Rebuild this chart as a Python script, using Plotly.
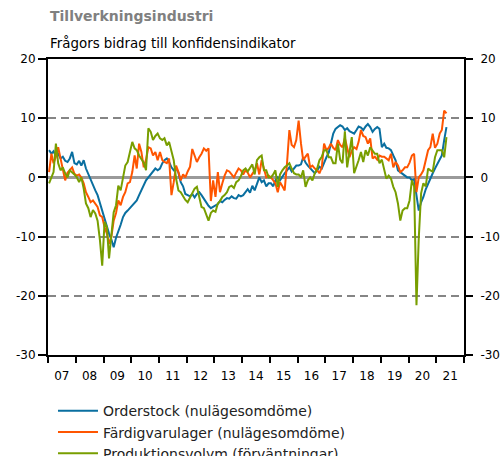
import plotly.graph_objects as go

# Monthly values, Jan 2007 - May 2021
orderstock = [
    4.6, 4.0, 4.4, 3.6, 4.0, 3.2, 3.5, 2.8, 2.6, 3.2, 4.3, 2.4,
    2.2, 2.8, 2.0, 2.9, 1.5, 0.5, -0.2, -1.2, -2.2, -3.0, -4.4, -5.5,
    -7.3, -8.5, -9.5, -10.5, -11.8, -10.2, -9.2, -8.0, -6.7, -6.0, -5.6, -5.2,
    -4.7, -4.2, -3.9, -3.0, -2.2, -1.5, -0.5, 0.0, 0.5, 1.0, 1.5, 1.2,
    1.5, 2.4, 2.9, 3.2, 2.6, 1.7, 1.2, 1.6, 0.8, -0.8, -1.5, -2.8,
    -3.0, -3.2, -2.8, -3.4, -2.8, -2.5, -3.0, -3.6, -4.4, -4.8, -5.2, -5.0,
    -4.8, -4.5, -4.0, -4.2, -3.8, -3.5, -3.6, -3.2, -3.5, -3.6, -3.0, -3.2,
    -3.0, -2.5, -2.0, -2.6, -1.4, -2.2, -1.0, 0.0, -0.8, -0.5, -1.5, -1.0,
    -1.0, -1.5, -0.5, 0.0, -0.5, 0.2, 0.7, 1.2, 1.7, 1.0, 1.5, 2.0,
    2.0, 2.2, 3.4, 2.5, 2.0, 1.5, 1.0, 0.7, 1.2, 1.8, 1.5, 2.5,
    3.4, 4.2, 5.7, 7.4, 8.2, 8.5, 8.8, 8.6, 8.0, 8.3, 7.8, 7.6,
    7.4, 8.0, 8.6, 8.4, 8.0, 8.6, 9.0, 8.5, 7.7, 8.2, 8.5, 8.2,
    5.1, 5.7, 5.0, 4.9, 4.6, 3.7, 2.9, 1.2, 0.9, 0.7, 0.3, 0.0,
    0.0, -0.5, -0.3, -3.0, -5.6, -4.2, -3.3, -2.0, -1.0, 0.0, 0.7, 1.5,
    2.3, 3.0, 3.7, 6.3, 8.5,
]

fardigvarulager = [
    0.9, 4.0, 2.4, 3.5, 5.1, 3.2, 0.9, -0.5, 0.8, 1.2, 1.7, 0.6,
    0.3, 0.5, 0.0, -1.0, -2.5, -3.3, -4.2, -3.9, -4.4, -5.0, -6.4, -6.7,
    -8.4, -9.5, -11.2, -10.0, -7.3, -6.0, -3.9, -4.7, -3.3, -2.5, -1.0, -0.8,
    0.9, 3.7, 1.5, 5.7, 4.3, 1.7, 3.0, 5.1, 4.9, 3.7, 4.3, 2.9,
    4.3, 2.9, 2.6, 2.4, 3.2, -3.0, -0.8, 2.0, 0.9, -0.5, 0.5, 0.0,
    1.0, 1.8, 4.8, 3.7, 2.6, 3.4, 4.0, 4.9, 4.5, 4.9, -4.0, -0.5,
    -3.3, 0.9, -2.5, -1.0, 0.3, 1.2, 1.0, 0.5, 0.0, 0.8, 1.5, 1.2,
    0.5, 1.2, 0.8, 0.0, 0.5, 1.2, 2.4, 0.5, 2.9, 1.5, 0.0, 0.3,
    0.0, -0.5, -1.0, -2.5, -0.8, -1.5, -2.2, 2.4, 8.0, 5.5, 5.1, 6.3,
    9.6, 5.7, 2.9, 3.5, 4.0, 1.7, 2.0, 1.5, 1.2, 0.7, 1.7, 5.7,
    4.6, 5.0, 5.7, 5.0, 4.6, 6.3, 5.5, 5.1, 6.6, 5.0, 3.4, 4.5,
    5.1, 4.8, 6.0, 8.0, 7.0, 6.8, 5.7, 6.6, 3.2, 3.5, 3.0, 3.7,
    3.5, 3.5, 3.2, 2.9, 4.0, 1.7, 2.6, 2.0, 0.9, 1.2, 1.7, 1.7,
    2.5, 3.7, 4.0, -2.5, 0.0, 0.5, 1.2, 2.8, 4.6, 5.1, 7.4, 5.0,
    5.7, 7.4, 8.0, 11.3, 10.8,
]

produktionsvolym = [
    -1.0, 0.0, 0.9, 5.7, 2.4, 1.2, 1.7, 0.7, 0.0, 1.2, 0.9, 0.5,
    0.0, -0.8, 0.0, -1.9, -4.4, -5.2, -6.7, -5.5, -6.1, -7.3, -10.6, -14.9,
    -7.5, -8.4, -13.7, -9.2, -5.9, -4.7, -1.4, -2.2, 0.0, 2.0, 2.6, 4.3,
    6.0, 4.9, 4.6, 3.7, 3.2, 2.5, 1.2, 8.3, 7.7, 6.3, 7.0, 7.4,
    6.6, 6.3, 6.6, 5.4, 6.0, 4.6, 2.9, -0.2, -2.2, -2.5, -3.3, -3.8,
    -4.2, -3.5, -2.8, -1.9, -1.6, -3.6, -5.0, -5.2, -6.4, -7.3, -6.0, -5.6,
    -5.8, -4.4, -4.0, -3.3, -3.0, -2.5, -1.6, -1.4, -1.8, -0.8, -0.5, 0.2,
    1.2, 1.5, 1.0, 1.7, 2.2, 0.5, 2.9, 3.4, 3.7, 1.2, 1.2, 0.0,
    0.0, 0.5, 1.2, -1.6, 0.5, 1.2, 1.7, 2.0, 2.4, 1.5, 0.7, 0.5,
    0.5, 0.0, 1.2, -1.6, -0.5, 0.0, -0.5, 0.7, 1.5, 2.9, 3.5, 4.6,
    4.6, 3.4, 3.4, 2.4, 2.4, 5.7, 3.0, 2.4, 7.8, 1.7, 4.6, 6.8,
    0.7, 1.7, 2.9, 4.3, 2.6, 4.6, 3.7, 5.1, 4.5, 4.0, 4.0, 2.4,
    3.0, 1.2, -0.2, 0.3, -0.2, -1.6, -2.5, -4.4, -7.3, -5.6, -5.2, -5.2,
    -3.9, -0.5, -1.5, -21.6, -10.3, -2.7, -1.0, -1.5, 1.5, 1.2, 1.0, 3.4,
    4.6, 4.6, 4.6, 3.4, 6.8,
]

series_names = [
    "Orderstock (nulägesomdöme)",
    "Färdigvarulager (nulägesomdöme)",
    "Produktionsvolym (förväntningar)",
]
series_colors = ["#0a6fa0", "#ff5500", "#789e00"]

y_tick_values = [-30, -20, -10, 0, 10, 20]
y_tick_labels = ["-30", "-20", "-10", "0", "10", "20"]

n = len(orderstock)
dates = [f"{2007 + i // 12}-{i % 12 + 1:02d}-15" for i in range(n)]

FONT = "DejaVu Sans"

fig = go.Figure()
for name, vals, col in zip(series_names,
                           [orderstock, fardigvarulager, produktionsvolym],
                           series_colors):
    fig.add_trace(go.Scatter(x=dates, y=vals, mode="lines", name=name,
                             line=dict(color=col, width=2)))

# invisible carrier so the mirrored right-hand axis is drawn
fig.add_trace(go.Scatter(x=dates, y=orderstock, yaxis="y2", mode="lines",
                         line=dict(color="rgba(0,0,0,0)", width=0),
                         showlegend=False, hoverinfo="skip"))

fig.update_layout(
    width=501, height=456,
    margin=dict(l=48, r=37, t=59, b=101, autoexpand=False),
    paper_bgcolor="white", plot_bgcolor="white",
    font=dict(family=FONT, size=12, color="black"),
    showlegend=True,
    legend=dict(x=0.012, xanchor="left", y=-0.136, yanchor="top",
                orientation="v", itemwidth=40,
                font=dict(family=FONT, size=14, color="#222"),
                bgcolor="rgba(0,0,0,0)", borderwidth=0),
    xaxis=dict(type="date", range=["2007-01-01", "2022-01-01"],
               tick0="2007-01-01", dtick="M12", tickformat="%y",
               ticklabelmode="period", ticks="outside", ticklen=6,
               tickcolor="black", tickwidth=1.5, ticklabelstandoff=3,
               showline=True, linecolor="black", linewidth=2, mirror=True,
               showgrid=False, zeroline=False,
               tickfont=dict(family=FONT, size=12, color="black")),
    yaxis=dict(range=[-30, 20], tickmode="array", tickvals=y_tick_values,
               ticktext=y_tick_labels, ticks="outside",
               ticklen=8, tickcolor="black", tickwidth=1.5,
               showline=True, linecolor="black", linewidth=2, mirror=True,
               showgrid=True, gridcolor="#858585", gridwidth=2,
               griddash="8px,5px",
               zeroline=True, zerolinecolor="#9a9a9a", zerolinewidth=2.5,
               tickfont=dict(family=FONT, size=12, color="black")),
    yaxis2=dict(range=[-30, 20], tickmode="array", tickvals=y_tick_values,
                ticktext=y_tick_labels, overlaying="y",
                side="right", ticks="outside", ticklen=8, tickcolor="black",
                tickwidth=1.5, ticklabelstandoff=5,
                showgrid=False, zeroline=False, showline=False,
                tickfont=dict(family=FONT, size=12, color="black")),
    annotations=[
        dict(text="<b>Tillverkningsindustri</b>", xref="paper", yref="paper",
             x=0.0, y=1.145, xanchor="left", yanchor="middle", showarrow=False,
             font=dict(family=FONT, size=14, color="#808080")),
        dict(text="Frågors bidrag till konfidensindikator", xref="paper",
             yref="paper", x=0.0, y=1.054, xanchor="left", yanchor="middle",
             showarrow=False, font=dict(family=FONT, size=13.4, color="black")),
    ],
)

# remove the browser's default body margin so the figure sits at the page origin
fig.write_html("out.html",
               config={"displayModeBar": False},
               post_script="document.body.style.margin='0';"
                           "document.body.style.overflow='hidden';"
                           "document.documentElement.style.overflow='hidden';")
